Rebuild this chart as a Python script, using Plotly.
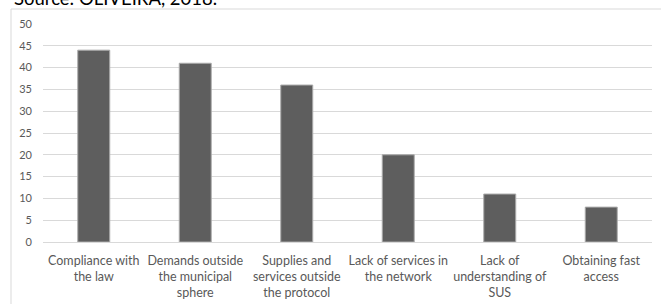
import plotly.graph_objects as go

categories = [
    "Compliance with<br>the law",
    "Demands outside<br>the municipal<br>sphere",
    "Supplies and<br>services outside<br>the protocol",
    "Lack of services in<br>the network",
    "Lack of<br>understanding of<br>SUS",
    "Obtaining fast<br>access",
]
values = [44, 41, 36, 20, 11, 8]
y_ticks = [0, 5, 10, 15, 20, 25, 30, 35, 40, 45, 50]

W, H = 661, 304
L, R, T, B = 43, 9, 24, 62

fig = go.Figure(
    go.Bar(
        x=categories,
        y=values,
        marker=dict(color="#5e5e5e", line=dict(color="#ababab", width=1)),
        width=0.315,
        hoverinfo="skip",
    )
)

fig.update_layout(
    width=W,
    height=H,
    margin=dict(l=L, r=R, t=T, b=B, pad=0),
    paper_bgcolor="white",
    plot_bgcolor="white",
    showlegend=False,
    font=dict(family="Lato", size=11, color="#595959"),
)
fig.update_yaxes(
    range=[0, 50],
    tickvals=y_ticks,
    showgrid=True,
    gridcolor="#d9d9d9",
    gridwidth=1,
    zeroline=True,
    zerolinecolor="#d9d9d9",
    zerolinewidth=1,
    showline=False,
    ticks="",
    ticklabelstandoff=10,
    automargin=False,
    tickfont=dict(size=11, color="#595959"),
)
fig.update_xaxes(
    showline=False,
    ticks="",
    tickangle=0,
    ticklabelstandoff=9,
    automargin=False,
    tickfont=dict(size=12.5, color="#595959"),
)

# chart frame
ph = H - T - B
pw = W - L - R
x0 = (11 - L) / pw
y1 = (H - B - 9) / ph
fig.add_shape(type="line", xref="paper", yref="paper", x0=x0, x1=x0, y0=(H - B - 310) / ph, y1=y1,
              line=dict(color="#d9d9d9", width=1))
fig.add_shape(type="line", xref="paper", yref="paper", x0=x0, x1=(670 - L) / pw, y0=y1, y1=y1,
              line=dict(color="#d9d9d9", width=1))

fig.add_annotation(
    text="Source: OLIVEIRA, 2018.",
    xref="paper", yref="paper",
    x=(12 - L) / pw, y=(H - B - 11) / ph,
    xanchor="left", yanchor="bottom",
    showarrow=False,
    font=dict(family="Lato", size=18.5, color="#000000"),
)

fig.write_html(
    "out.html",
    config={"displayModeBar": False},
    post_script="document.body.style.margin='0';document.body.style.overflow='hidden';",
)
